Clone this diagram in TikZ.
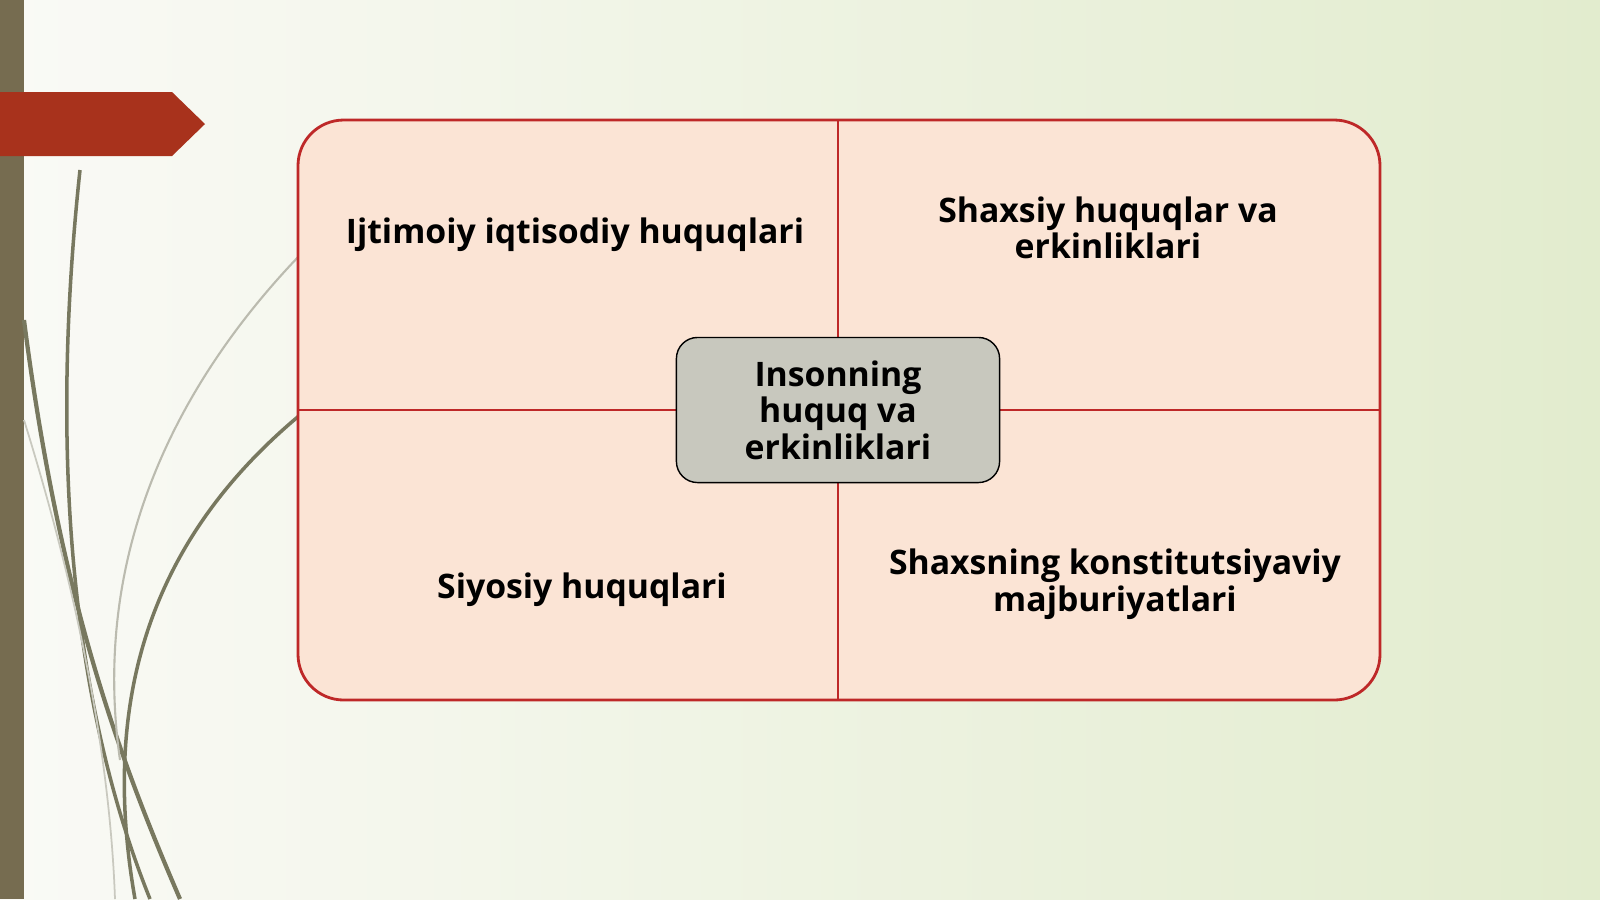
\documentclass[tikz,border=0pt]{standalone}
\usepackage{fontspec}
\setmainfont{Open Sans}
\definecolor{peach}{RGB}{251,228,213}
\definecolor{edgered}{RGB}{190,40,40}
\definecolor{boxgray}{RGB}{200,200,190}
\definecolor{olivebar}{RGB}{118,108,80}
\definecolor{tagred}{RGB}{168,50,28}
\definecolor{bgleft}{RGB}{250,250,246}
\definecolor{bgright}{RGB}{226,236,206}
\definecolor{grass}{RGB}{120,120,95}
\tikzset{
  quadtext/.style={font=\bfseries\fontsize{9.6}{10.4}\selectfont, align=center, text=black},
  hubbox/.style={draw=black, fill=boxgray, rounded corners=6pt, minimum width=3.23cm, minimum height=1.45cm, quadtext}
}
\begin{document}
\begin{tikzpicture}[x=0.01cm,y=-0.01cm]
        % Background
        \shade[left color=bgleft, right color=bgright] (0,0) rectangle (1600,899);
        \useasboundingbox (0,0) rectangle (1600,899);
        \fill[olivebar] (0,0) rectangle (24,899);
        \fill[tagred] (0,92) -- (172,92) -- (205,124) -- (172,156) -- (0,156) -- cycle;

        % Grass strokes
        \draw[grass, line width=1.2pt] (24,320) .. controls (60,600) and (120,760) .. (180,899);
        \draw[grass, line width=1pt] (80,170) .. controls (50,450) and (70,700) .. (150,899);
        \draw[grass, line width=1pt] (300,415) .. controls (150,540) and (100,700) .. (135,899);
        \draw[grass!50, line width=0.6pt] (300,255) .. controls (180,380) and (90,550) .. (120,760);
        \draw[grass!40, line width=0.5pt] (24,420) .. controls (80,600) and (110,760) .. (115,899);

        % Quadrant panel
        \draw[edgered, fill=peach, line width=0.8pt, rounded corners=13pt] (298,120) rectangle (1380,700);
        \coordinate (top) at (838,120);
        \coordinate (bottom) at (838,700);
        \coordinate (left) at (298,410);
        \coordinate (right) at (1380,410);
        \draw[edgered, line width=0.8pt] (top) -- (bottom);
        \draw[edgered, line width=0.8pt] (left) -- (right);

        % Labels
        \node[quadtext] (social) at (575,235) {Ijtimoiy iqtisodiy huquqlari};
        \node[quadtext] (personal) at (1108,228) {Shaxsiy huquqlar va\\erkinliklari};
        \node[quadtext] (political) at (582,590) {Siyosiy huquqlari};
        \node[quadtext] (duties) at (1115,584) {Shaxsning konstitutsiyaviy\\majburiyatlari};

        % Hub
        \node[hubbox] (hub) at (838,410) {Insonning\\huquq va\\erkinliklari};
    \end{tikzpicture}
\end{document}
